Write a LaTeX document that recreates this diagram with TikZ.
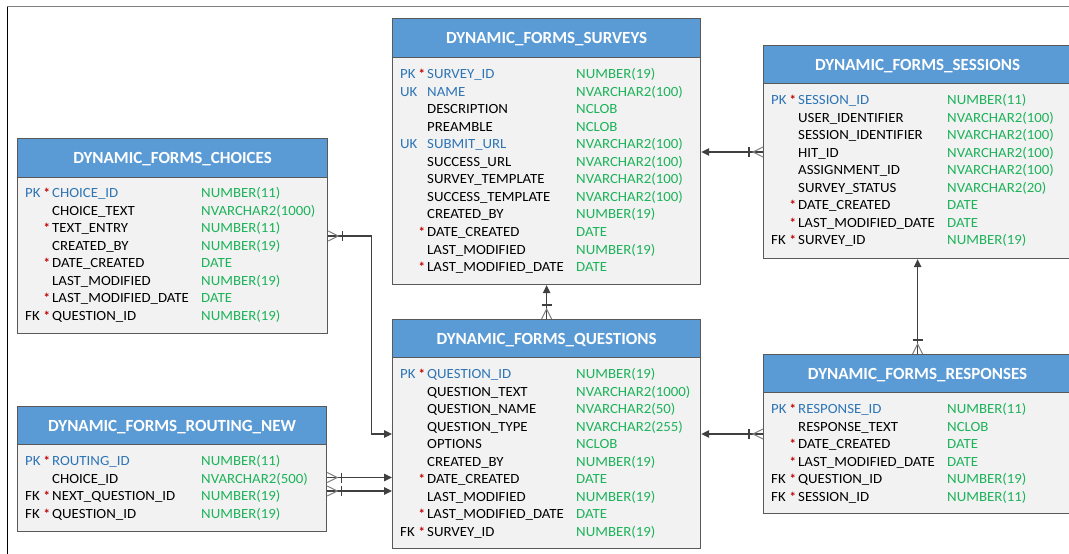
\documentclass[tikz,border=0pt]{standalone}
\usepackage{fontspec}
\setmainfont{Carlito}
\newfontfamily\cellfont[FakeStretch=1.06]{Carlito}
\usetikzlibrary{arrows.meta,calc}

\definecolor{hdrblue}{HTML}{5B9BD5}
\definecolor{bodyfill}{HTML}{F2F2F2}
\definecolor{edgegray}{HTML}{595959}
\definecolor{keyblue}{HTML}{2E75B6}
\definecolor{typegreen}{HTML}{1DB35A}
\definecolor{starred}{HTML}{C00000}
\definecolor{linegray}{HTML}{404040}
\definecolor{crowgray}{HTML}{7F7F7F}

\tikzset{
  tablebox/.style={draw=edgegray, line width=1.2pt, fill=bodyfill, inner sep=0pt, anchor=north west},
  tablehead/.style={draw=edgegray, line width=1.2pt, fill=hdrblue, inner sep=0pt, anchor=north west},
  tabletitle/.style={text=white, font=\fontsize{17}{17}\selectfont\bfseries, anchor=base, inner sep=0pt},
  celltext/.style={font=\cellfont\fontsize{14}{14}\selectfont, anchor=base west, inner sep=0pt},
  startext/.style={font=\fontsize{13}{13}\selectfont\bfseries, text=starred, anchor=base west, inner sep=0pt},
  kP/.style={text=keyblue}, kU/.style={text=keyblue}, kF/.style={text=black}, kN/.style={text=black},
  rel/.style={draw=linegray, line width=1.1pt, -{Triangle[length=8pt,width=7.5pt]}},
  crow/.style={draw=crowgray, line width=1pt},
  crowbar/.style={draw=linegray, line width=1.1pt},
}
\def\ktxtP{PK}\def\ktxtU{UK}\def\ktxtF{FK}

% table frame: #1 name, #2 left, #3 top, #4 width, #5 header height, #6 total height, #7 title
\newcommand\ertable[7]{%
  \node[tablebox, minimum width=#4pt, minimum height=#6pt] (#1) at (#2,#3) {};
  \node[tablehead, minimum width=#4pt, minimum height=#5pt] (#1-h) at (#2,#3) {};
  \node[tabletitle] (#1-t) at ($(#1-h.center)+(0,5.6)$) {#7};
}
% column rows: #1 table, #2 left, #3 centre of first row, #4 key/req/name/type list
\newcommand\ertrows[4]{%
  \foreach \k/\s/\n/\t [count=\i] in {#4} {
    \pgfmathsetmacro\ry{#3+(\i-1)*17.55+4.5}
    \if N\k\else\node[celltext,k\k] (#1-key\i) at (#2+8,\ry) {\csname ktxt\k\endcsname};\fi
    \ifnum\s=1 \node[startext] (#1-req\i) at (#2+26.5,\ry) {*};\fi
    \node[celltext,k\k] (#1-col\i) at (#2+35,\ry) {\n};
    \node[celltext,text=typegreen] (#1-type\i) at (#2+184,\ry) {\t};
  }
}
% crow's foot at a table edge point #1, pointing away from the table along (#2,#3)
\newcommand\crowfoot[3]{%
  \draw[crow] ($(#1)+(5*#3,-5*#2)$) -- ($(#1)+(10*#2,10*#3)$) -- ($(#1)+(-5*#3,5*#2)$);
  \draw[crowbar] ($(#1)+(14*#2+5*#3,14*#3-5*#2)$) -- ($(#1)+(14*#2-5*#3,14*#3+5*#2)$);
}

\begin{document}
\begin{tikzpicture}[x=1pt,y=-1pt]
\useasboundingbox (0,0) rectangle (1069,554);
\clip (0,0) rectangle (1069,554);
\fill[white] (0,0) rectangle (1069,554);

% page frame
\draw[draw=crowgray, line width=1.5pt] (7,6.5) -- (1069,6.5);
\draw[draw=black, line width=1pt] (7,6.5) -- (7,554);

% tables
\ertable{surveys}{392}{18}{308}{39}{266}{DYNAMIC\_FORMS\_SURVEYS}
\ertrows{surveys}{392}{74}{
  P/1/SURVEY\_ID/NUMBER(19),
  U/0/NAME/NVARCHAR2(100),
  N/0/DESCRIPTION/NCLOB,
  N/0/PREAMBLE/NCLOB,
  U/0/SUBMIT\_URL/NVARCHAR2(100),
  N/0/SUCCESS\_URL/NVARCHAR2(100),
  N/0/SURVEY\_TEMPLATE/NVARCHAR2(100),
  N/0/SUCCESS\_TEMPLATE/NVARCHAR2(100),
  N/0/CREATED\_BY/NUMBER(19),
  N/1/DATE\_CREATED/DATE,
  N/0/LAST\_MODIFIED/NUMBER(19),
  N/1/LAST\_MODIFIED\_DATE/DATE}

\ertable{sessions}{763}{45}{308}{38}{213}{DYNAMIC\_FORMS\_SESSIONS}
\ertrows{sessions}{763}{100}{
  P/1/SESSION\_ID/NUMBER(11),
  N/0/USER\_IDENTIFIER/NVARCHAR2(100),
  N/0/SESSION\_IDENTIFIER/NVARCHAR2(100),
  N/0/HIT\_ID/NVARCHAR2(100),
  N/0/ASSIGNMENT\_ID/NVARCHAR2(100),
  N/0/SURVEY\_STATUS/NVARCHAR2(20),
  N/1/DATE\_CREATED/DATE,
  N/1/LAST\_MODIFIED\_DATE/DATE,
  F/1/SURVEY\_ID/NUMBER(19)}

\ertable{choices}{17}{138}{310}{39}{195}{DYNAMIC\_FORMS\_CHOICES}
\ertrows{choices}{17}{193}{
  P/1/CHOICE\_ID/NUMBER(11),
  N/0/CHOICE\_TEXT/NVARCHAR2(1000),
  N/1/TEXT\_ENTRY/NUMBER(11),
  N/0/CREATED\_BY/NUMBER(19),
  N/1/DATE\_CREATED/DATE,
  N/0/LAST\_MODIFIED/NUMBER(19),
  N/1/LAST\_MODIFIED\_DATE/DATE,
  F/1/QUESTION\_ID/NUMBER(19)}

\ertable{routing}{17}{406}{309}{38}{125}{DYNAMIC\_FORMS\_ROUTING\_NEW}
\ertrows{routing}{17}{461}{
  P/1/ROUTING\_ID/NUMBER(11),
  N/0/CHOICE\_ID/NVARCHAR2(500),
  F/1/NEXT\_QUESTION\_ID/NUMBER(19),
  F/1/QUESTION\_ID/NUMBER(19)}

\ertable{questions}{392}{319}{308}{38}{229}{DYNAMIC\_FORMS\_QUESTIONS}
\ertrows{questions}{392}{374}{
  P/1/QUESTION\_ID/NUMBER(19),
  N/0/QUESTION\_TEXT/NVARCHAR2(1000),
  N/0/QUESTION\_NAME/NVARCHAR2(50),
  N/0/QUESTION\_TYPE/NVARCHAR2(255),
  N/0/OPTIONS/NCLOB,
  N/0/CREATED\_BY/NUMBER(19),
  N/1/DATE\_CREATED/DATE,
  N/0/LAST\_MODIFIED/NUMBER(19),
  N/1/LAST\_MODIFIED\_DATE/DATE,
  F/1/SURVEY\_ID/NUMBER(19)}

\ertable{responses}{763}{354}{308}{38}{159}{DYNAMIC\_FORMS\_RESPONSES}
\ertrows{responses}{763}{409}{
  P/1/RESPONSE\_ID/NUMBER(11),
  N/0/RESPONSE\_TEXT/NCLOB,
  N/1/DATE\_CREATED/DATE,
  N/1/LAST\_MODIFIED\_DATE/DATE,
  F/1/QUESTION\_ID/NUMBER(19),
  F/1/SESSION\_ID/NUMBER(11)}

% relationships (child end with crow's foot, parent end with arrow)
\coordinate (sessFK) at (sessions.west |- 0,152);
\draw[rel] (sessFK) -- (surveys.east |- sessFK);
\crowfoot{sessFK}{-1}{0}

\coordinate (qFK) at (questions.north);
\draw[rel] (qFK) -- (surveys.south);
\crowfoot{qFK}{0}{-1}

\coordinate (rSessFK) at (responses.north);
\draw[rel] (rSessFK) -- (sessions.south);
\crowfoot{rSessFK}{0}{-1}

\coordinate (rQFK) at (responses.west |- 0,434);
\draw[rel] (rQFK) -- (questions.east |- rQFK);
\crowfoot{rQFK}{-1}{0}

\coordinate (cQFK) at (choices.east |- 0,236);
\draw[rel] (cQFK) -- ++(43,0) |- (questions.west |- 0,434);
\crowfoot{cQFK}{1}{0}

\coordinate (rtFK1) at (routing.east |- 0,477.5);
\draw[rel] (rtFK1) -- (questions.west |- rtFK1);
\crowfoot{rtFK1}{1}{0}

\coordinate (rtFK2) at (routing.east |- 0,491);
\draw[rel] (rtFK2) -- (questions.west |- rtFK2);
\crowfoot{rtFK2}{1}{0}
\end{tikzpicture}
\end{document}
